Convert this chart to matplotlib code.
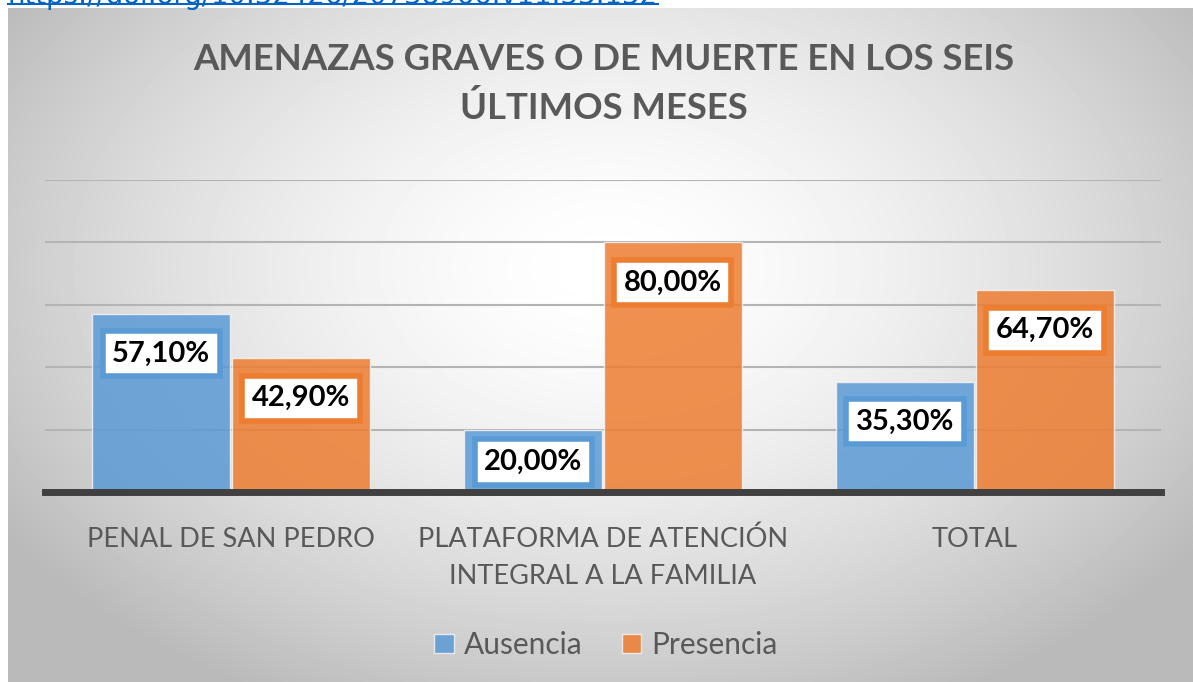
import numpy as np
import matplotlib.pyplot as plt

categories = ['PENAL DE SAN PEDRO', 'PLATAFORMA DE ATENCIÓN\nINTEGRAL A LA FAMILIA', 'TOTAL']
ausencia = [57.1, 20.0, 35.3]
presencia = [42.9, 80.0, 64.7]
series_names = ['Ausencia', 'Presencia']
title = 'AMENAZAS GRAVES O DE MUERTE EN LOS SEIS\nÚLTIMOS MESES'
link_text = 'https://doi.org/10.32426/20738966.v11.33.132'

plt.rcParams['font.family'] = ['Lato', 'DejaVu Sans']

W, H = 1193, 682
fig = plt.figure(figsize=(W / 100, H / 100), dpi=100)
fig.patch.set_facecolor('white')

# radial gray background of the chart area
bg = fig.add_axes([8 / W, 0, 1 - 8 / W, 1 - 8 / H])
yy, xx = np.mgrid[0:674, 0:1185]
r = np.sqrt(((xx - 600) / 720.0) ** 2 + ((yy - 260) / 480.0) ** 2)
shade = 1.0 - 0.27 * np.clip(r, 0, 1) ** 1.6
bg.imshow(shade, cmap='gray', vmin=0, vmax=1, aspect='auto', interpolation='bilinear')
bg.axis('off')

# cut-off link on top
fig.text(8 / W, 1.0 + 4 / H, link_text, color='#0563C1', fontsize=19.8,
         family='DejaVu Sans', va='center', ha='left')
fig.add_artist(plt.Line2D([8 / W, 658 / W], [1 - 4 / H, 1 - 4 / H], color='#0563C1',
                          lw=1.5, transform=fig.transFigure))

ax_h = 312
ax = fig.add_axes([45 / W, 1 - 492 / H, 1116 / W, ax_h / H])
ax.patch.set_alpha(0)
x = np.arange(len(categories))
w = 0.371
off = 0.1875
fills = ['#5B9BD5', '#ED7D31']
for i, (vals, name) in enumerate(zip([ausencia, presencia], series_names)):
    pos = x + (-off if i == 0 else off)
    ax.bar(pos, vals, w, color=fills[i], alpha=0.85, edgecolor='#f4f4f4', lw=1,
           label=name, zorder=3)
    for px, v in zip(pos, vals):
        bar_px = v / 100 * ax_h
        drop = min(40, bar_px - 30) * 0.72
        ax.annotate(f'{v:.2f}%'.replace('.', ','), (px, v), xytext=(0, -drop),
                    textcoords='offset points', ha='center', va='center',
                    fontsize=21, fontweight='bold', color='black', zorder=5,
                    bbox=dict(boxstyle='square,pad=0.33', fc='white', ec=fills[i], lw=4))

ax.set_xlim(-0.5, 2.5)
ax.set_ylim(0, 100)
ax.set_yticks(np.arange(20, 101, 20))
ax.yaxis.grid(True, color='#b4b4b4', lw=1.5, zorder=0)
ax.tick_params(axis='y', left=False, labelleft=False)
ax.set_xticks(x)
ax.set_xticklabels(categories, fontsize=19.5, color='#595959', linespacing=1.6)
ax.tick_params(axis='x', length=0, pad=25)
for s in ['top', 'right', 'left']:
    ax.spines[s].set_visible(False)
ax.spines['bottom'].set_color('#404040')
ax.spines['bottom'].set_linewidth(5)
ax.spines['bottom'].set_zorder(4)

fig.text(604 / W, 1 - 84 / H, title, ha='center', va='center', fontsize=26.3,
         fontweight='bold', color='#595959', linespacing=1.55)

fig.legend(loc='center', bbox_to_anchor=(606 / W, 1 - 645 / H), ncol=2, frameon=False,
           fontsize=21.5, handlelength=0.65, handleheight=0.65, handletextpad=0.35,
           columnspacing=1.3, labelcolor='#595959')

fig.savefig('out.png', dpi=100)
